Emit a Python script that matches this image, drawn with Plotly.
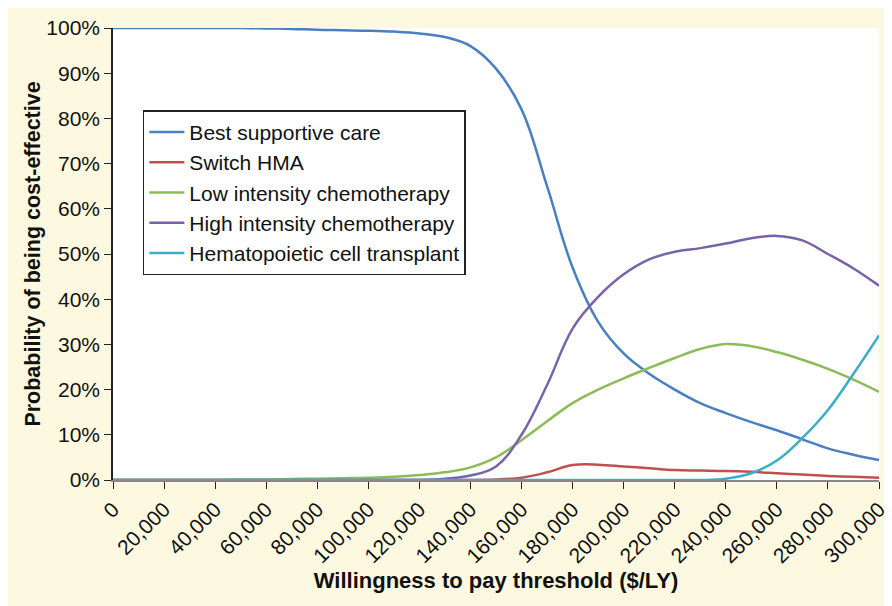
import plotly.graph_objects as go

wtp = [0, 10000, 20000, 30000, 40000, 50000, 60000, 70000, 80000, 90000, 100000,
       110000, 120000, 130000, 140000, 150000, 160000, 170000, 180000, 190000, 200000,
       210000, 220000, 230000, 240000, 250000, 260000, 270000, 280000, 290000, 300000]

best_supportive = [100, 100, 100, 100, 100, 100, 99.9, 99.8, 99.6, 99.5, 99.4,
                   99.2, 98.8, 98.0, 96.0, 91.0, 82, 65, 47, 35, 28,
                   23.5, 20, 17, 14.8, 12.8, 11, 9, 7, 5.6, 4.4]
switch_hma = [0, 0, 0, 0, 0, 0, 0, 0, 0, 0, 0,
              0, 0, 0, 0, 0.1, 0.5, 1.7, 3.3, 3.4, 3.0,
              2.6, 2.2, 2.1, 2.0, 1.8, 1.5, 1.2, 0.9, 0.7, 0.5]
low_intensity = [0, 0, 0, 0, 0, 0.1, 0.1, 0.2, 0.3, 0.4, 0.5,
                 0.7, 1.1, 1.7, 2.8, 5, 8.8, 13, 17, 20, 22.5,
                 24.8, 27, 29, 30.1, 29.6, 28.3, 26.6, 24.6, 22.2, 19.5]
high_intensity = [0, 0, 0, 0, 0, 0, 0, 0, 0, 0, 0,
                  0, 0, 0.3, 1, 3, 10, 21, 33.5, 40.5, 45.5,
                  48.8, 50.5, 51.3, 52.3, 53.5, 54, 53, 50, 46.8, 43]
hct = [0, 0, 0, 0, 0, 0, 0, 0, 0, 0, 0,
       0, 0, 0, 0, 0, 0, 0, 0, 0, 0,
       0, 0, 0, 0.3, 1.5, 4.3, 9.3, 15.5, 23.5, 32]

x_tickvals = list(range(0, 300001, 20000))
x_ticktext = ["0"] + [f"{v:,}" for v in x_tickvals[1:]]
y_tickvals = list(range(0, 101, 10))
y_ticktext = [f"{v}%" for v in y_tickvals]

series = [
    ("Best supportive care", best_supportive, "#4a7fc1"),
    ("Switch HMA", switch_hma, "#c0504d"),
    ("Low intensity chemotherapy", low_intensity, "#8dbb58"),
    ("High intensity chemotherapy", high_intensity, "#7a62a8"),
    ("Hematopoietic cell transplant", hct, "#3aaec8"),
]

fig = go.Figure()
for name, vals, col in series:
    fig.add_trace(go.Scatter(x=wtp, y=vals, mode="lines", name=name,
                             line=dict(color=col, width=2.5, shape="spline", smoothing=1.1),
                             cliponaxis=False))

font_family = "Liberation Sans, Arial, sans-serif"
fig.update_layout(
    width=884, height=598,
    margin=dict(l=105, r=13, t=20, b=126, autoexpand=False),
    paper_bgcolor="#fdf9e0",
    plot_bgcolor="#ffffff",
    font=dict(family=font_family, size=21, color="#111111"),
    showlegend=True,
    legend=dict(x=0.039, y=0.818, xanchor="left", yanchor="top",
                bgcolor="#ffffff", bordercolor="#222222", borderwidth=1.5,
                font=dict(size=21), tracegroupgap=0, itemwidth=35),
    xaxis=dict(range=[0, 300000], tickvals=x_tickvals, ticktext=x_ticktext,
               tickangle=-45, ticks="outside", ticklen=7, tickcolor="#222222",
               showgrid=False, zeroline=False, showline=True, linecolor="#888888", linewidth=1.5,
               automargin=False,
               title=dict(text="<b>Willingness to pay threshold ($/LY)</b>", font=dict(size=22), standoff=6)),
    yaxis=dict(range=[0, 100], tickvals=y_tickvals, ticktext=y_ticktext,
               ticks="outside", ticklen=7, tickcolor="#222222",
               showgrid=False, zeroline=False, showline=True, linecolor="#222222", linewidth=1.5,
               automargin=False,
               title=dict(text="<b>Probability of being cost-effective</b>", font=dict(size=21.5), standoff=0)),
)

fig.write_html("out.html")
